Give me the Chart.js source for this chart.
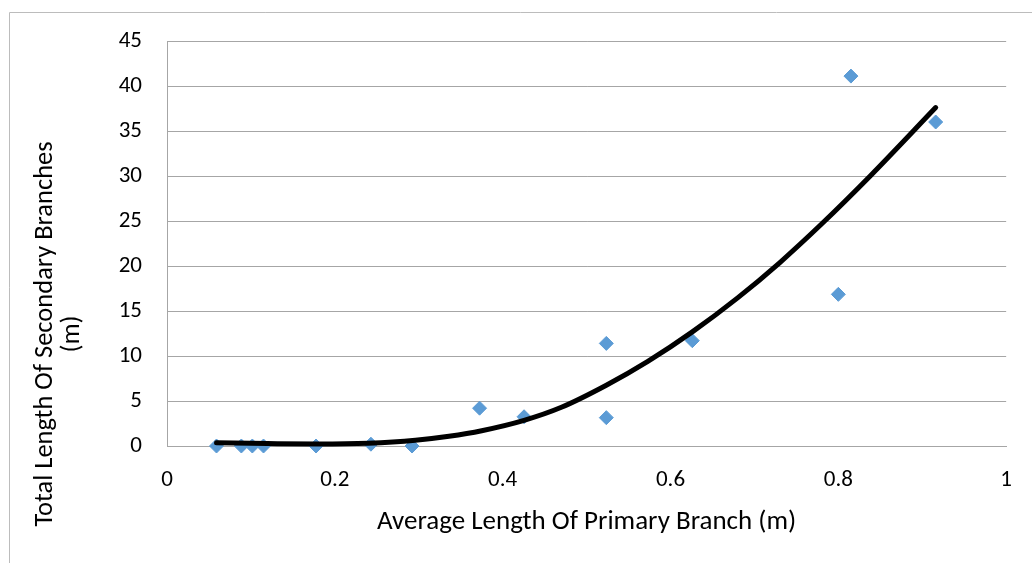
<!DOCTYPE html>
<html>
<head>
<meta charset="utf-8">
<script src="https://cdn.jsdelivr.net/npm/chart.js@4.4.1/dist/chart.umd.min.js"></script>
<style>
  html, body { margin: 0; padding: 0; background: #ffffff; }
  #wrap { width: 1032px; height: 563px; position: relative; }
</style>
</head>
<body>
<div id="wrap"><canvas id="chart" width="1032" height="563"></canvas></div>
<script>
// Measured samples: average primary branch length vs. total secondary branch length (m)
const primaryLength = [0.059, 0.0886, 0.1017, 0.115, 0.1776, 0.243, 0.292, 0.3725, 0.4255, 0.5235, 0.5235, 0.626, 0.800, 0.815, 0.916];
const secondaryLength = [0, 0, 0, 0, 0, 0.2, 0, 4.2, 3.25, 11.4, 3.15, 11.7, 16.85, 41.1, 36.0];

// Polynomial trend line, sampled along its length
const trendX = [0.059, 0.12, 0.18, 0.24, 0.296, 0.336, 0.375, 0.4255, 0.47, 0.5235, 0.573, 0.626, 0.68, 0.73, 0.78, 0.838, 0.916];
const trendY = [0.35, 0.27, 0.22, 0.31, 0.64, 1.08, 1.7, 2.85, 4.3, 6.75, 9.4, 12.68, 16.46, 20.36, 24.66, 30.0, 37.6];

// Axis ticks
const xTicks = [0, 0.2, 0.4, 0.6, 0.8, 1];
const yTicks = [0, 5, 10, 15, 20, 25, 30, 35, 40, 45];

const xTitle = 'Average Length Of Primary Branch (m)';
const yTitle = ['Total Length Of Secondary Branches', '(m)'];

const points = primaryLength.map((x, i) => ({ x, y: secondaryLength[i] }));
const trend = trendX.map((x, i) => ({ x, y: trendY[i] }));

const FONT = 'Carlito, Calibri, Lato, "Open Sans", sans-serif';
const GRID = '#a6a6a6';
const TEXT = '#000000';

// Thin frame line along the left and top of the chart area
const framePlugin = {
  id: 'frame',
  beforeDraw(chart) {
    const ctx = chart.ctx;
    ctx.save();
    ctx.strokeStyle = '#bcbcbc';
    ctx.lineWidth = 1;
    ctx.beginPath();
    ctx.moveTo(9.5, chart.height);
    ctx.lineTo(9.5, 12.5);
    ctx.lineTo(chart.width, 12.5);
    ctx.stroke();
    ctx.restore();
  }
};

// Two-line vertical axis title, centred a little below the plot's middle
const yTitlePlugin = {
  id: 'yTitle',
  afterDraw(chart) {
    const ctx = chart.ctx;
    ctx.save();
    ctx.fillStyle = TEXT;
    ctx.font = '26.5px ' + FONT;
    ctx.textAlign = 'center';
    ctx.textBaseline = 'middle';
    const cy = 334;
    yTitle.forEach((line, i) => {
      ctx.save();
      ctx.translate(45 + i * 27, cy);
      ctx.rotate(-Math.PI / 2);
      ctx.fillText(line, 0, 0);
      ctx.restore();
    });
    ctx.restore();
  }
};

new Chart(document.getElementById('chart'), {
  type: 'scatter',
  data: {
    datasets: [
      {
        type: 'line',
        label: 'Trend',
        data: trend,
        borderColor: '#000000',
        borderWidth: 5,
        borderCapStyle: 'round',
        borderJoinStyle: 'round',
        pointRadius: 0,
        fill: false,
        cubicInterpolationMode: 'monotone',
        clip: false,
        order: 0
      },
      {
        label: 'Samples',
        data: points,
        pointStyle: 'rectRot',
        pointRadius: 7,
        pointHoverRadius: 7,
        backgroundColor: '#5b9bd5',
        borderColor: '#5b9bd5',
        borderWidth: 1,
        clip: false,
        order: 1
      }
    ]
  },
  options: {
    responsive: false,
    animation: false,
    devicePixelRatio: 1,
    layout: { padding: { top: 41, right: 18, bottom: 0, left: 0 } },
    plugins: {
      legend: { display: false },
      tooltip: { enabled: false }
    },
    scales: {
      x: {
        type: 'linear',
        min: xTicks[0],
        max: xTicks[xTicks.length - 1],
        afterBuildTicks(axis) { axis.ticks = xTicks.map(v => ({ value: v })); },
        afterFit(axis) { axis.height = 117; },
        grid: { display: false, drawTicks: false },
        border: { display: true, color: GRID, width: 1 },
        ticks: {
          padding: 20,
          color: TEXT,
          font: { family: FONT, size: 23 },
          callback: v => String(v)
        },
        title: {
          display: true,
          text: xTitle,
          color: TEXT,
          font: { family: FONT, size: 27, lineHeight: 0.93 },
          padding: { top: 0, bottom: 28 }
        }
      },
      y: {
        type: 'linear',
        min: yTicks[0],
        max: yTicks[yTicks.length - 1],
        afterBuildTicks(axis) { axis.ticks = yTicks.map(v => ({ value: v })); },
        afterFit(axis) { axis.width = 167; },
        grid: { color: GRID, lineWidth: 1, drawTicks: false },
        border: { display: true, color: GRID, width: 1 },
        ticks: {
          padding: 25,
          color: TEXT,
          font: { family: FONT, size: 23 },
          callback: v => String(v)
        },
        title: { display: false }
      }
    }
  },
  plugins: [framePlugin, yTitlePlugin]
});
</script>
</body>
</html>
